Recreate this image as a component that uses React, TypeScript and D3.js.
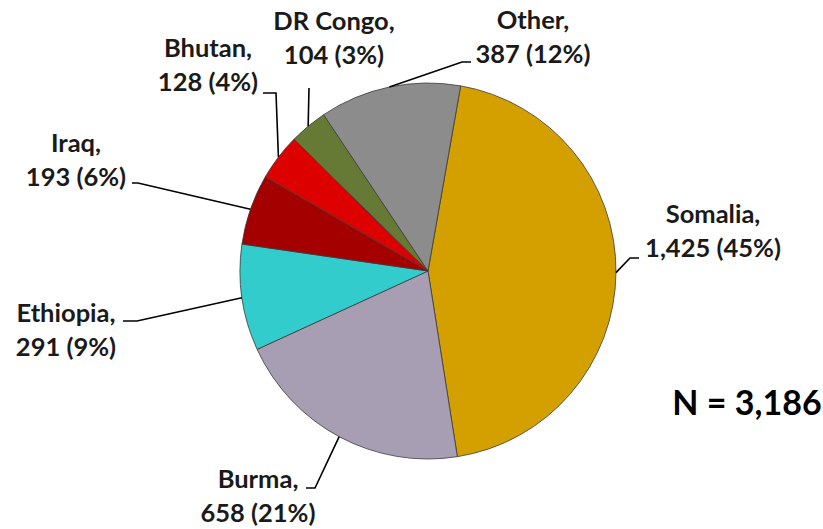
import { useMemo } from "react";
import { arc, pie, PieArcDatum } from "d3";

const countries = ["Somalia", "Burma", "Ethiopia", "Iraq", "Bhutan", "DR Congo", "Other"];
const counts = [1425, 658, 291, 193, 128, 104, 387];
const percents = [45, 21, 9, 6, 4, 3, 12];
const colors = ["#D4A000", "#A89EB3", "#33CCCC", "#A50000", "#DD0000", "#667A35", "#8C8C8C"];
const totalLabel = "N = 3,186";

// label placement: text centre x, first baseline, leader elbow points
const labelLayout = [
  { x: 713, y: 223, leader: [[630, 258], [639, 258]] },
  { x: 258, y: 488, leader: [[315, 488], [306, 488]] },
  { x: 66, y: 322, leader: [[137, 321], [123, 321]] },
  { x: 76, y: 152, leader: [[138, 183], [132, 183]] },
  { x: 208, y: 57, leader: [[276, 93], [263, 93]] },
  { x: 334, y: 30, leader: [[309, 88]] },
  { x: 533, y: 29, leader: [[462, 62], [471, 62]] }
];

interface Row {
  name: string;
  value: number;
  pct: number;
  color: string;
}

const fmt = (n: number) => n.toLocaleString("en-US");

export default function App() {
  const width = 823;
  const height = 529;
  const cx = 428;
  const cy = 271;
  const radius = 188;

  const rows: Row[] = countries.map((name, i) => ({
    name,
    value: counts[i],
    pct: percents[i],
    color: colors[i]
  }));

  const arcs = useMemo(
    () =>
      pie<Row>()
        .sort(null)
        .value((d) => d.value)
        .startAngle((10 * Math.PI) / 180)
        .endAngle((370 * Math.PI) / 180)(rows),
    []
  );

  const arcGen = arc<PieArcDatum<Row>>().innerRadius(0).outerRadius(radius);

  const edgePoint = (a: PieArcDatum<Row>) => {
    const mid = (a.startAngle + a.endAngle) / 2;
    return [cx + radius * Math.sin(mid), cy - radius * Math.cos(mid)];
  };

  const font = "Lato, 'Open Sans', sans-serif";

  return (
    <svg
      width={width}
      height={height}
      style={{ position: "absolute", left: 0, top: 0, background: "#fff" }}
    >
      <g transform={`translate(${cx}, ${cy})`}>
        {arcs.map((a) => (
          <path
            key={a.data.name}
            d={arcGen(a) || ""}
            fill={a.data.color}
            stroke="#3a3a3a"
            strokeWidth={0.8}
          />
        ))}
      </g>
      {arcs.map((a, i) => {
        const lay = labelLayout[i];
        const pts = [edgePoint(a), ...lay.leader];
        return (
          <g key={`lbl-${a.data.name}`}>
            <polyline
              points={pts.map((p) => p.join(",")).join(" ")}
              fill="none"
              stroke="#000"
              strokeWidth={1.6}
            />
            <text
              x={lay.x}
              y={lay.y}
              textAnchor="middle"
              fontFamily={font}
              fontWeight={700}
              fontSize={25.5}
              fill="#1a1a1a"
            >
              <tspan x={lay.x}>{a.data.name},</tspan>
              <tspan x={lay.x} dy={34}>
                {`${fmt(a.data.value)} (${a.data.pct}%)`}
              </tspan>
            </text>
          </g>
        );
      })}
      <text
        x={747}
        y={415}
        textAnchor="middle"
        fontFamily={font}
        fontWeight={700}
        fontSize={34}
        fill="#000"
      >
        {totalLabel}
      </text>
    </svg>
  );
}
